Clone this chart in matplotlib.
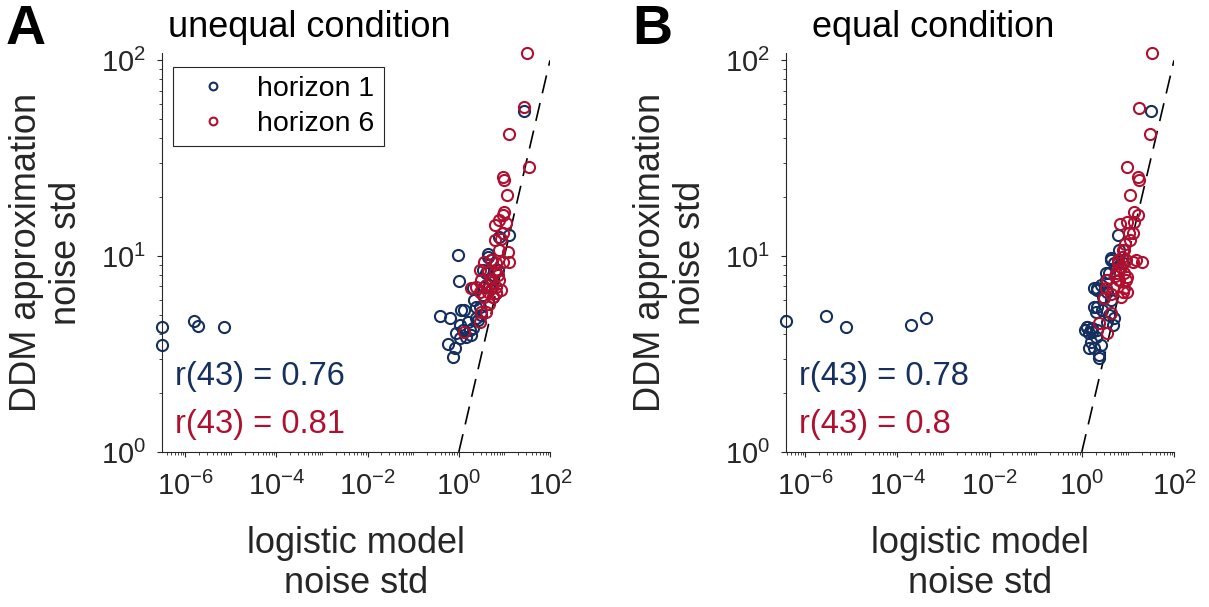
import numpy as np
import matplotlib
matplotlib.use("Agg")
import matplotlib.pyplot as plt
from matplotlib.ticker import FixedLocator, LogLocator, FuncFormatter, NullFormatter

plt.rcParams['font.family'] = ['Liberation Sans', 'DejaVu Sans']
plt.rcParams['mathtext.fontset'] = 'custom'
plt.rcParams['mathtext.rm'] = 'Liberation Sans'

# noise std estimates: logistic model (x) vs DDM approximation (y)
# panel A - unequal condition
unequal_h1_x = [3.1e-7, 3.1e-7, 1.55e-6, 1.95e-6, 7.2e-6,
                0.95, 1.0, 0.38, 0.63, 0.575, 0.81, 0.74, 1.13, 1.33, 2.41,
                2.85, 1.04, 1.22, 1.72, 2.03, 0.88, 1.04, 1.45, 1.87, 2.41,
                2.61, 4.33, 5.14, 3.36, 3.98, 3.66, 4.71, 3.36, 5.57, 6.6,
                7.8, 12.9, 27.5, 4.33, 1.6, 2.2, 5.0, 3.0, 2.04, 7.2]
unequal_h1_y = [4.33, 3.52, 4.68, 4.41, 4.34,
                10.1, 7.48, 4.96, 4.81, 3.56, 3.38, 3.06, 5.30, 5.30, 5.51,
                5.51, 4.44, 4.19, 4.19, 4.28, 4.03, 3.80, 3.88, 3.95, 4.81,
                4.71, 9.91, 9.54, 8.48, 8.17, 6.97, 7.11, 6.32, 6.20, 6.45,
                12.5, 12.8, 55.1, 10.3, 4.6, 6.0, 7.6, 5.0, 6.84, 8.5]
unequal_h6_x = [31, 27.5, 12.9, 34.3, 9.2, 10, 11.2, 10, 9.2, 7.8,
                6.07, 10.6, 9.2, 6.07, 8.5, 7.8, 11.9, 3.66, 5.14, 6.6,
                9.2, 12.9, 2.85, 4.33, 6.07, 7.16, 3.09, 5.14, 7.8, 2.41,
                3.98, 6.6, 1.87, 2.85, 4.33, 6.6, 8.5, 3.66, 5.57, 3.09,
                3.98, 2.85, 1.33, 4.6, 5.4]
unequal_h6_y = [109, 57.8, 42.3, 28.6, 25.4, 24.4, 20.6, 16.8, 16.2, 15.3,
                14.4, 14.8, 13.1, 12.1, 12.3, 10.7, 10.5, 9.35, 9.54, 9.18,
                9.35, 9.35, 8.48, 8.32, 8.32, 8.0, 7.54, 7.69, 7.54, 6.97,
                7.11, 6.97, 6.84, 6.58, 6.58, 6.45, 6.71, 6.2, 6.2, 5.2,
                5.2, 4.62, 4.10, 5.7, 6.9]

# panel B - equal condition
equal_h1_x = [3.85e-7, 2.87e-6, 7.8e-6, 1.94e-4, 4.18e-4,
              31.7, 5.96, 4.27, 5.03, 3.92, 3.32, 2.58, 2.19, 2.19, 2.01,
              2.81, 3.92, 3.61, 1.32, 1.56, 1.70, 1.44, 2.19, 2.01, 1.56,
              2.58, 2.37, 1.85, 4.27, 4.65, 7.67, 6.48, 1.85, 2.19, 4.27,
              1.85, 3.32, 5.03, 1.44, 2.37, 1.32, 1.70, 1.2, 2.9, 3.5]
equal_h1_y = [4.68, 4.94, 4.33, 4.44, 4.81,
              55.0, 12.9, 9.73, 9.18, 8.17, 7.54, 7.11, 6.71, 5.51, 5.20,
              5.30, 5.0, 4.62, 4.36, 4.27, 4.10, 4.03, 4.19, 3.88, 3.66,
              3.52, 3.13, 3.38, 5.97, 4.44, 9.18, 10.7, 6.84, 6.84, 9.54,
              5.51, 8.17, 4.81, 3.38, 3.03, 4.33, 4.30, 4.2, 6.2, 6.6]
equal_h6_x = [32.8, 17.1, 30.1, 9.5, 16.3, 17.6, 11.2, 13.7, 16.3, 6.8,
              9.8, 13.3, 10.7, 11.2, 14.9, 20.2, 12.6, 7.67, 5.97, 7.05,
              5.48, 8.3, 6.48, 9.0, 3.61, 3.32, 4.65, 7.67, 9.8, 3.05,
              7.05, 4.27, 2.37, 3.61, 12.6, 8.3, 9.0, 9.8, 8.3, 6.0,
              5.2, 7.5, 8.8, 4.2, 5.97]
equal_h6_y = [109, 57.4, 42.1, 28.4, 25.4, 24.4, 20.6, 16.8, 16.2, 14.6,
              15.0, 15.0, 13.1, 12.1, 9.54, 9.35, 9.35, 10.7, 9.54, 8.81,
              8.17, 8.17, 7.54, 7.54, 7.54, 6.84, 6.84, 6.58, 6.58, 6.08,
              6.2, 5.10, 4.54, 4.06, 13.1, 10.7, 9.54, 7.84, 6.84, 8.5,
              7.9, 9.9, 11.5, 6.4, 9.18]

titles = ['unequal condition', 'equal condition']
panel_letters = ['A', 'B']
r_h1 = ['r(43) = 0.76', 'r(43) = 0.78']
r_h6 = ['r(43) = 0.81', 'r(43) = 0.8']
x_ticks = [1e-6, 1e-4, 1e-2, 1e0, 1e2]
y_ticks = [1e0, 1e1, 1e2]

blue = '#15305e'
red = '#b0102f'
axcol = '#262626'

data = [(unequal_h1_x, unequal_h1_y, unequal_h6_x, unequal_h6_y),
        (equal_h1_x, equal_h1_y, equal_h6_x, equal_h6_y)]

fig = plt.figure(figsize=(12.09, 6.07), dpi=100)
lefts = [162 / 1209, 786 / 1209]
letter_x = [6 / 1209, 632 / 1209]

def log_label(v, pos):
    return r'$\mathregular{10^{%d}}$' % int(round(np.log10(v)))

for i in range(2):
    ax = fig.add_axes([lefts[i], 155 / 607, 388 / 1209, 399 / 607])
    h1x, h1y, h6x, h6y = data[i]
    allx = h1x + h6x
    ally = h1y + h6y

    # identity line
    ax.plot([1, 100], [1, 100], color='k', lw=1.2, ls=(0, (11, 6)), zorder=1)
    ax.plot(h1x, h1y, 'o', mfc='none', mec=blue, ms=8, mew=1.5,
            label='horizon 1', clip_on=False, zorder=2)
    ax.plot(h6x, h6y, 'o', mfc='none', mec=red, ms=8, mew=1.5,
            label='horizon 6', clip_on=False, zorder=3)

    ax.set_xscale('log')
    ax.set_yscale('log')
    ax.set_xlim(min(allx), 100)
    ax.set_ylim(1, max(ally))

    ax.xaxis.set_major_locator(FixedLocator(x_ticks))
    ax.yaxis.set_major_locator(FixedLocator(y_ticks))
    ax.xaxis.set_minor_locator(LogLocator(base=10, subs=np.arange(1, 10), numticks=100))
    ax.yaxis.set_minor_locator(LogLocator(base=10, subs=np.arange(2, 10), numticks=100))
    ax.xaxis.set_major_formatter(FuncFormatter(log_label))
    ax.yaxis.set_major_formatter(FuncFormatter(log_label))
    ax.xaxis.set_minor_formatter(NullFormatter())
    ax.yaxis.set_minor_formatter(NullFormatter())

    for s in ['top', 'right']:
        ax.spines[s].set_visible(False)
    for s in ['left', 'bottom']:
        ax.spines[s].set_color(axcol)
        ax.spines[s].set_linewidth(0.8)
    ax.tick_params(which='major', direction='out', length=3.5, width=0.8,
                   color=axcol, labelcolor=axcol, labelsize=21)
    ax.tick_params(axis='x', which='major', pad=11)
    ax.tick_params(axis='y', which='major', pad=8)
    ax.tick_params(which='minor', direction='out', length=2, width=0.6, color=axcol)

    ax.set_xlabel('logistic model\nnoise std', fontsize=26, color=axcol)
    ax.set_ylabel('DDM approximation\nnoise std', fontsize=26, color=axcol)
    ax.xaxis.set_label_coords(0.5, -0.185)
    ax.yaxis.set_label_coords(-0.2, 0.5)

    ax.text(0.38, 1.04, titles[i], transform=ax.transAxes, ha='center',
            va='baseline', fontsize=26, color='k')
    ax.text(0.034, 0.188, r_h1[i], transform=ax.transAxes, ha='left',
            va='center', fontsize=23.5, color=blue)
    ax.text(0.034, 0.068, r_h6[i], transform=ax.transAxes, ha='left',
            va='center', fontsize=23.5, color=red)

    if i == 0:
        leg = ax.legend(loc='upper left', bbox_to_anchor=(0.028, 0.965),
                        borderaxespad=0, fontsize=20.5, markerscale=0.7,
                        fancybox=False, framealpha=1, edgecolor=axcol,
                        handlelength=2.2, handletextpad=0.45,
                        labelspacing=0.3, borderpad=0.32)
        leg.get_frame().set_linewidth(0.8)

    fig.text(letter_x[i], 1 - 44 / 607, panel_letters[i], fontsize=40,
             fontweight='bold', ha='left', va='baseline')

fig.savefig('out.png', dpi=100)
